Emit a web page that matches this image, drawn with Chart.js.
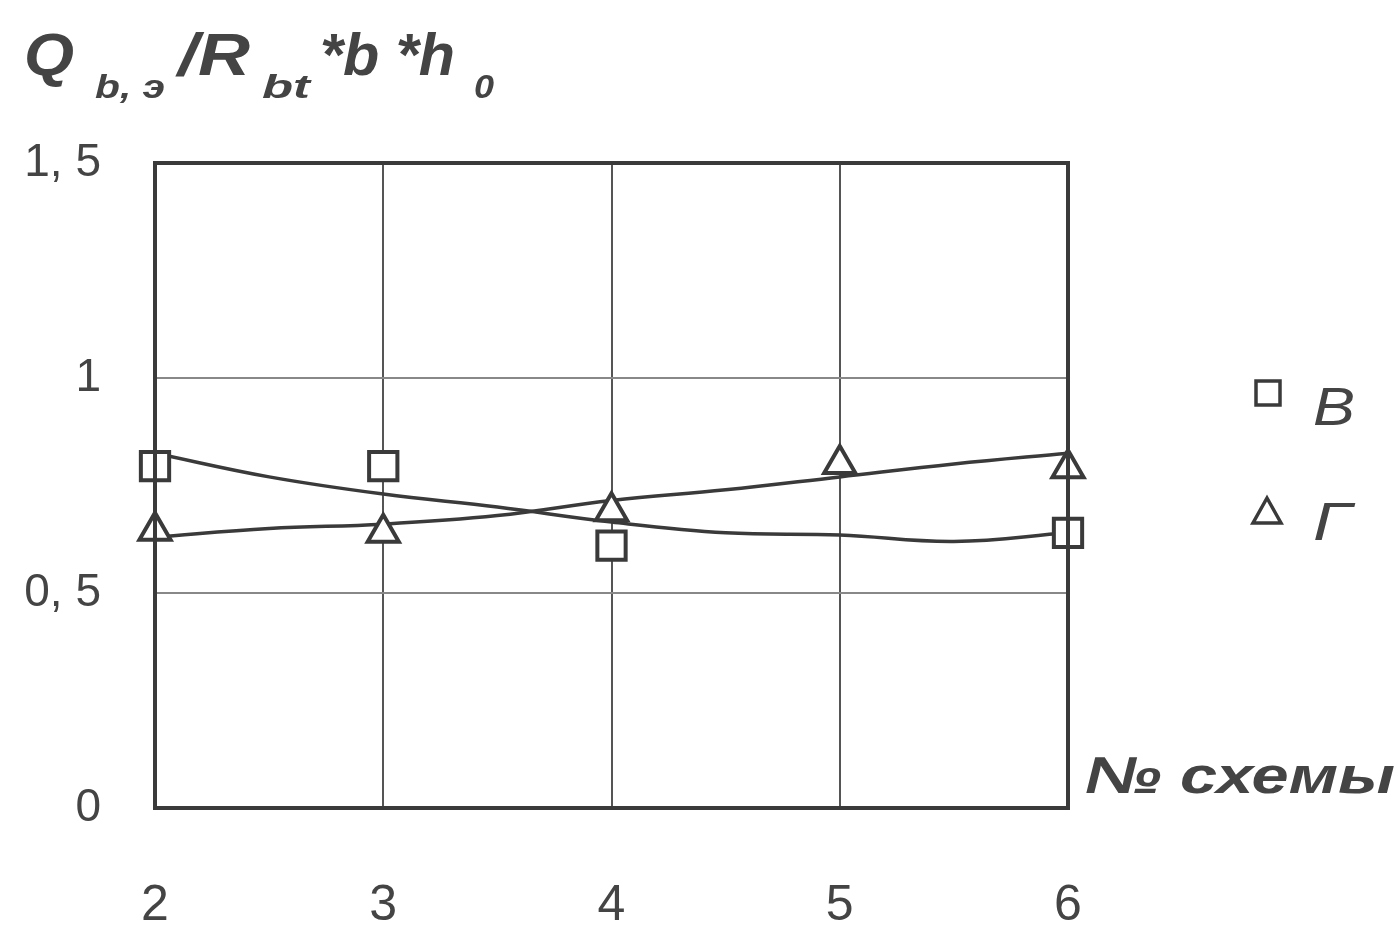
<!DOCTYPE html>
<html>
<head>
<meta charset="utf-8">
<script src="https://cdn.jsdelivr.net/npm/chart.js@4/dist/chart.umd.min.js"></script>
<style>
  html, body { margin: 0; padding: 0; background: #fff; }
  #wrap { width: 1398px; height: 926px; position: relative; }
</style>
</head>
<body>
<div id="wrap"><canvas id="chart"></canvas></div>
<script>
// --- data ---
var schemes = [2, 3, 4, 5, 6];
var valuesV = [0.795, 0.795, 0.61, null, 0.64];   // squares, "В"
var valuesG = [0.645, 0.64, 0.69, 0.80, 0.79];    // triangles, "Г"

var trendX = [2, 2.5, 3, 3.5, 4, 4.5, 5, 5.5, 6];
var trendV = [0.825, 0.77, 0.73, 0.70, 0.665, 0.64, 0.635, 0.62, 0.64];
var trendG = [0.63, 0.65, 0.66, 0.68, 0.715, 0.74, 0.77, 0.80, 0.825];

var yTickValues = [0, 0.5, 1, 1.5];
var yTickLabels = ['0', '0, 5', '1', '1, 5'];

var ink = '#3a3a3a';
var textGrey = '#444';
var sans = '"Liberation Sans", Arial, sans-serif';

function pairs(xs, ys) {
    var out = [];
    for (var i = 0; i < xs.length; i++) {
        if (ys[i] !== null) out.push({ x: xs[i], y: ys[i] });
    }
    return out;
}

// draw text squeezed/stretched to a given width
function fitText(ctx, text, x, y, width) {
    var w = ctx.measureText(text).width;
    ctx.save();
    ctx.translate(x, y);
    ctx.scale(width / w, 1);
    ctx.fillText(text, 0, 0);
    ctx.restore();
}

// frame, title, axis name and legend
var decorations = {
    id: 'decorations',
    afterDraw: function (chart) {
        var ctx = chart.ctx;
        var a = chart.chartArea;
        ctx.save();
        ctx.strokeStyle = ink;
        ctx.lineWidth = 4;
        ctx.strokeRect(a.left, a.top, a.right - a.left, a.bottom - a.top);

        ctx.fillStyle = textGrey;
        ctx.textBaseline = 'alphabetic';
        ctx.textAlign = 'left';
        var big = 'italic bold 60px ' + sans;
        var small = 'italic bold 34px ' + sans;
        ctx.font = big;   fitText(ctx, 'Q', 24, 75, 50);
        ctx.font = small; fitText(ctx, 'b, э', 95, 98, 70);
        ctx.font = big;   fitText(ctx, '/R', 178, 75, 72);
        ctx.font = small; fitText(ctx, 'bt', 262, 98, 48);
        ctx.font = big;   fitText(ctx, '*b *h', 320, 75, 135);
        ctx.font = small; fitText(ctx, '0', 474, 98, 20);

        ctx.font = 'italic bold 52px ' + sans;
        fitText(ctx, '№ схемы', 1085, 793, 310);

        // legend
        ctx.lineWidth = 3.5;
        ctx.strokeRect(1256, 381, 24, 24);
        ctx.beginPath();
        ctx.moveTo(1267, 498);
        ctx.lineTo(1281, 523);
        ctx.lineTo(1253, 523);
        ctx.closePath();
        ctx.stroke();
        ctx.font = 'italic 54px ' + sans;
        fitText(ctx, 'В', 1313, 425, 42);
        fitText(ctx, 'Г', 1313, 540, 38);
        ctx.restore();
    }
};

new Chart(document.getElementById('chart'), {
    type: 'scatter',
    data: {
        datasets: [
            {
                label: 'trend В',
                data: pairs(trendX, trendV),
                showLine: true,
                tension: 0.4,
                borderColor: ink,
                borderWidth: 3.5,
                pointRadius: 0,
                order: 2
            },
            {
                label: 'trend Г',
                data: pairs(trendX, trendG),
                showLine: true,
                tension: 0.4,
                borderColor: ink,
                borderWidth: 3.5,
                pointRadius: 0,
                order: 2
            },
            {
                label: 'В',
                data: pairs(schemes, valuesV),
                clip: false,
                pointStyle: 'rect',
                pointRadius: 20,
                pointBorderWidth: 4,
                pointBorderColor: ink,
                pointBackgroundColor: '#fff',
                order: 1
            },
            {
                label: 'Г',
                data: pairs(schemes, valuesG),
                clip: false,
                pointStyle: 'triangle',
                pointRadius: 18,
                pointBorderWidth: 4,
                pointBorderColor: ink,
                pointBackgroundColor: '#fff',
                order: 1
            }
        ]
    },
    options: {
        responsive: true,
        maintainAspectRatio: false,
        animation: false,
        layout: { padding: { left: 0, top: 163, right: 330, bottom: 0 } },
        plugins: {
            legend: { display: false },
            tooltip: { enabled: false }
        },
        scales: {
            x: {
                type: 'linear',
                min: 2,
                max: 6,
                afterFit: function (scale) { scale.height = 118; },
                afterBuildTicks: function (scale) {
                    scale.ticks = schemes.map(function (v) { return { value: v }; });
                },
                ticks: {
                    padding: 68,
                    color: textGrey,
                    font: { family: '"Liberation Sans Narrow", ' + sans, size: 50 }
                },
                grid: { color: '#555', lineWidth: 2, drawTicks: false },
                border: { display: false }
            },
            y: {
                min: 0,
                max: 1.5,
                afterFit: function (scale) { scale.width = 155; },
                afterBuildTicks: function (scale) {
                    scale.ticks = yTickValues.map(function (v) { return { value: v }; });
                },
                ticks: {
                    padding: 54,
                    color: textGrey,
                    font: { family: sans, size: 46 },
                    callback: function (value) {
                        var i = yTickValues.indexOf(value);
                        return i >= 0 ? yTickLabels[i] : '';
                    }
                },
                grid: { color: '#888', lineWidth: 2, drawTicks: false },
                border: { display: false }
            }
        }
    },
    plugins: [decorations]
});
</script>
</body>
</html>
